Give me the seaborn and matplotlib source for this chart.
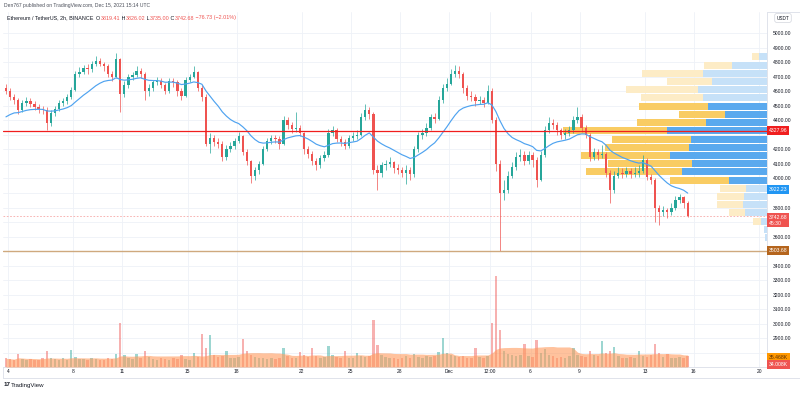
import numpy as np
import pandas as pd
import matplotlib
matplotlib.use('Agg')
import matplotlib.pyplot as plt
import matplotlib.dates as mdates
import seaborn as sns

sns.set_theme(style='white')
plt.rcParams['font.family'] = ['Liberation Sans', 'DejaVu Sans']

# ETH/USDT, 6h candles
first_candle = '2021-11-03 18:00'
first_open = 4620
closes = [
    4600, 4560, 4540, 4470, 4520, 4530, 4510, 4490, 4480, 4470, 4380, 4450,
    4480, 4520, 4530, 4560, 4610, 4720, 4730, 4760, 4750, 4790, 4810, 4790,
    4770, 4720, 4700, 4820, 4580, 4640, 4700, 4710, 4740, 4720, 4600, 4620,
    4660, 4670, 4640, 4600, 4670, 4660, 4600, 4570, 4680, 4700, 4730, 4620,
    4560, 4240, 4280, 4250, 4240, 4150, 4200, 4220, 4260, 4290, 4180, 4120,
    4020, 4060, 4100, 4200, 4260, 4280, 4270, 4240, 4400, 4370, 4340, 4350,
    4310, 4200, 4170, 4120, 4090, 4140, 4160, 4310, 4330, 4270, 4250, 4220,
    4280, 4290, 4300, 4420, 4470, 4440, 4060, 4040, 4090, 4100, 4110, 4070,
    4060, 4040, 4060, 4030, 4200, 4300, 4310, 4350, 4420, 4410, 4540, 4620,
    4650, 4720, 4740, 4720, 4620, 4570, 4560, 4530, 4540, 4520, 4600, 4400,
    4100, 3900, 3920, 4020, 4080, 4150, 4160, 4120, 4160, 4130, 3990, 4160,
    4330, 4380, 4370, 4330, 4300, 4310, 4330, 4400, 4420, 4350, 4300, 4150,
    4180, 4160, 4170, 4040, 3920, 4020, 4040, 4030, 4050, 4030, 4040, 4050,
    4130, 4010, 3990, 3800, 3770, 3780, 3770, 3800, 3850, 3870, 3830, 3742.68,
]
highs = [
    4650, 4620, 4580, 4555, 4540, 4560, 4550, 4530, 4510, 4500, 4490, 4470,
    4500, 4540, 4550, 4580, 4630, 4740, 4765, 4780, 4785, 4810, 4840, 4830,
    4800, 4785, 4740, 4865, 4830, 4670, 4720, 4735, 4770, 4760, 4730, 4650,
    4680, 4695, 4690, 4655, 4690, 4690, 4675, 4620, 4700, 4720, 4770, 4740,
    4640, 4580, 4310, 4300, 4280, 4260, 4230, 4250, 4280, 4320, 4300, 4200,
    4130, 4080, 4120, 4220, 4280, 4300, 4300, 4290, 4430, 4420, 4390, 4460,
    4370, 4320, 4220, 4190, 4140, 4160, 4190, 4340, 4360, 4345, 4290, 4270,
    4300, 4320, 4330, 4450, 4510, 4490, 4460, 4090, 4110, 4130, 4150, 4120,
    4100, 4080, 4090, 4080, 4220, 4320, 4340, 4380, 4440, 4450, 4570, 4650,
    4690, 4750, 4780, 4770, 4730, 4640, 4600, 4580, 4570, 4560, 4640, 4620,
    4420, 4130, 3990, 4050, 4110, 4180, 4200, 4190, 4190, 4180, 4150, 4190,
    4360, 4420, 4410, 4390, 4350, 4340, 4360, 4430, 4490, 4440, 4370, 4310,
    4210, 4200, 4230, 4180, 4060, 4050, 4080, 4070, 4080, 4070, 4080, 4090,
    4160, 4140, 4030, 4000, 3820, 3810, 3800, 3830, 3880, 3895, 3880, 3845,
]
lows = [
    4580, 4540, 4510, 4440, 4455, 4500, 4490, 4470, 4450, 4440, 4330, 4360,
    4430, 4465, 4500, 4510, 4545, 4600, 4700, 4715, 4720, 4735, 4775, 4770,
    4740, 4700, 4670, 4690, 4460, 4560, 4620, 4680, 4695, 4690, 4540, 4570,
    4600, 4640, 4620, 4580, 4590, 4630, 4570, 4540, 4560, 4660, 4690, 4600,
    4530, 4220, 4175, 4220, 4210, 4120, 4130, 4180, 4200, 4245, 4160, 4090,
    3970, 3990, 4030, 4090, 4190, 4240, 4245, 4200, 4230, 4340, 4310, 4320,
    4290, 4170, 4140, 4090, 4060, 4070, 4120, 4150, 4290, 4250, 4220, 4200,
    4210, 4260, 4270, 4290, 4400, 4410, 4030, 3920, 4010, 4060, 4080, 4040,
    4030, 4010, 3960, 3990, 4010, 4180, 4270, 4290, 4330, 4380, 4400, 4520,
    4600, 4640, 4700, 4690, 4590, 4540, 4530, 4500, 4510, 4490, 4510, 4380,
    4050, 3503.68, 3850, 3900, 4000, 4060, 4120, 4090, 4100, 4080, 3940, 3980,
    4150, 4310, 4340, 4300, 4270, 4270, 4290, 4310, 4380, 4320, 4280, 4120,
    4130, 4130, 4140, 4010, 3830, 3900, 4000, 4000, 4010, 4000, 4010, 4010,
    4040, 3990, 3960, 3700, 3680, 3740, 3730, 3750, 3780, 3830, 3800, 3735,
]
# closes before the visible window, only to warm up the moving average
ma_warmup = [4420, 4380, 4350, 4400, 4430, 4410, 4380, 4420,
             4400, 4360, 4390, 4420, 4400, 4380, 4410, 4400]
# volume in thousands of ETH
volumes_k = [
    28, 25, 23, 42, 26, 22, 27, 24, 21, 28, 52, 30,
    25, 23, 28, 24, 55, 32, 27, 25, 22, 30, 26, 24,
    23, 28, 25, 42, 140, 38, 30, 25, 42, 28, 52, 32,
    26, 23, 28, 25, 24, 30, 27, 40, 26, 24, 45, 31,
    106, 62, 103, 38, 32, 34, 52, 30, 28, 32, 90, 52,
    38, 32, 28, 30, 27, 29, 25, 28, 61, 34, 30, 28,
    48, 37, 32, 61, 35, 29, 33, 68, 38, 32, 30, 52,
    29, 28, 45, 34, 32, 36, 150, 71, 40, 32, 29, 28,
    26, 28, 34, 30, 42, 32, 29, 35, 31, 34, 48, 93,
    44, 38, 34, 32, 36, 30, 29, 61, 32, 28, 34, 140,
    293, 120, 52, 42, 38, 34, 40, 74, 36, 32, 87, 44,
    58, 38, 34, 30, 32, 29, 34, 61, 39, 36, 32, 52,
    38, 34, 84, 44, 50, 64, 34, 30, 28, 32, 29, 52,
    34, 32, 39, 74, 44, 32, 42, 30, 28, 32, 30, 34.008,
]

time_tick_dates = ['2021-11-04 00:00', '2021-11-08 00:00', '2021-11-11 00:00', '2021-11-15 00:00',
                   '2021-11-18 00:00', '2021-11-22 00:00', '2021-11-25 00:00', '2021-11-28 00:00',
                   '2021-12-01 00:00', '2021-12-03 12:00', '2021-12-06 00:00', '2021-12-09 00:00',
                   '2021-12-13 00:00', '2021-12-16 00:00', '2021-12-20 00:00']
time_tick_labels = ['4', '8', '11', '15', '18', '22', '25', '28', 'Dec', '12:00',
                    '6', '9', '13', '16', '20']
price_ticks = list(range(2800, 5001, 100))
# tick labels that sit under a price tag on the scale
covered_ticks = [2800, 3500, 3700, 3900, 4300]

# visible range volume profile (bottom -> top)
vp_prices = [3594, 3650, 3707, 3763, 3820, 3876, 3932, 3989, 4045, 4102, 4158, 4214,
             4271, 4327, 4384, 4440, 4496, 4553, 4609, 4666, 4722, 4778, 4835]
vp_up = [2, 3, 6, 22, 24, 23, 21, 38, 85, 75, 97, 78, 76, 100, 61, 42, 59, 64, 69, 55, 64, 35, 8]
vp_down = [0, 0, 8, 16, 26, 27, 26, 59, 96, 84, 89, 84, 79, 104, 69, 46, 69, 62, 72, 45, 61, 28, 7]
value_area = (3989, 4496)

poc_price = 4327.96
crash_low = 3503.68
last_price = 3742.68
ma_value = 3922.23
vol_ma_last = 35.468
vol_last = 34.008
countdown = '45:30'
last_bar = [3819.41, 3826.02, 3735.00, 3742.68]
change, change_pct = -76.73, -2.01

UP, DOWN = '#26a69a', '#ef5350'
BORDER = '#e0e3eb'
TXT = '#131722'

df = pd.DataFrame({'open': [first_open] + closes[:-1], 'high': highs, 'low': lows,
                   'close': closes, 'vol': volumes_k})
t = pd.date_range(first_candle, periods=len(df), freq='6h') + pd.Timedelta(hours=3)
df['x'] = mdates.date2num(t.to_pydatetime())
df['up'] = df['close'] >= df['open']
# EMA 50 on the 2h chart ~ alpha 0.113 per 6h candle
df['ma'] = (pd.Series(ma_warmup + closes).ewm(alpha=0.113, adjust=False).mean()
            .iloc[len(ma_warmup):].to_numpy())
df['vol_ma'] = df['vol'].rolling(20, min_periods=1).mean()
cols = np.where(df['up'], UP, DOWN)

W, H = 800, 394
fig = plt.figure(figsize=(8, 3.94), dpi=100)
fig.patch.set_facecolor('white')

frame = fig.add_axes([3 / W, 1 - 378 / H, 797 / W, 366 / H])
frame.set_xticks([])
frame.set_yticks([])
for s in frame.spines.values():
    s.set_color(BORDER)
    s.set_linewidth(0.7)
frame.spines['right'].set_visible(False)
frame.set_zorder(-1)

rect = [3 / W, 1 - 367 / H, 764 / W, 355 / H]
ax = fig.add_axes(rect)
ax_vol = ax.twinx()
ax_vp = ax.twiny()
ax_top = fig.add_axes(rect, sharex=ax, sharey=ax)
ax_top.patch.set_visible(False)

# volume pane
ax_vol.bar(df['x'], df['vol'], width=0.15, color=cols, alpha=0.45, lw=0)
ax_vol.fill_between(df['x'], 0, df['vol_ma'], color='#ff9a5c', alpha=0.6, lw=0)
ax_vol.set_ylim(0, 1140)
ax_vol.set_axis_off()

# volume profile
in_va = [value_area[0] <= p <= value_area[1] for p in vp_prices]
up_cols = ['#5aa9ee' if v else '#c6e1f8' for v in in_va]
dn_cols = ['#f9cc63' if v else '#fdecc6' for v in in_va]
bin_h = (vp_prices[1] - vp_prices[0]) * 0.86
ax_vp.barh(vp_prices, vp_up, height=bin_h, left=0, color=up_cols, lw=0)
ax_vp.barh(vp_prices, vp_down, height=bin_h, left=vp_up, color=dn_cols, lw=0)
tot = max(u + d for u, d in zip(vp_up, vp_down))
ax_vp.set_xlim(tot / 0.267, 0)
ax_vp.set_axis_off()

# candles + moving average
ax_top.vlines(df['x'], df['low'], df['high'], colors=cols, lw=0.5)
body_lo = np.minimum(df['open'], df['close'])
body_h = np.maximum(np.abs(df['close'] - df['open']), 4)
ax_top.bar(df['x'], body_h, bottom=body_lo, width=0.14, color=cols, lw=0)
sns.lineplot(x=df['x'], y=df['ma'], ax=ax_top, color='#4fa3f0', lw=0.85)
ax_top.axhline(poc_price, color='#f01e1e', lw=0.9)
ax_top.axhline(crash_low, color='#cfa97e', lw=1.0)
ax_top.axhline(last_price, color='#ef5350', lw=0.6, alpha=0.5, ls=(0, (2, 2)))
ax_top.set_axis_off()

x0 = mdates.date2num(pd.Timestamp('2021-11-04').to_pydatetime())
ax.set_xlim(x0 - 0.306, x0 + 46.48)
ax.set_ylim(2704, 5144)

ax.yaxis.tick_right()
ax.set_yticks(price_ticks)
ax.set_yticklabels(['' if p in covered_ticks else f'{p:.2f}' for p in price_ticks])
tick_x = mdates.date2num(pd.to_datetime(time_tick_dates, format='%Y-%m-%d %H:%M').to_pydatetime())
ax.set_xticks(tick_x)
ax.set_xticklabels(time_tick_labels)
ax.tick_params(axis='y', length=0, pad=4.3, labelsize=3.6, labelcolor=TXT)
ax.tick_params(axis='x', length=0, pad=1.6, labelsize=3.5, labelcolor=TXT)
ax.grid(True, color='#eef1f7', lw=0.6)
ax.set_axisbelow(True)
ax.set_xlabel('')
ax.set_ylabel('')
for side in ['left', 'top']:
    ax.spines[side].set_visible(False)
for side in ['right', 'bottom']:
    ax.spines[side].set_color(BORDER)
    ax.spines[side].set_linewidth(0.7)


def tag(axis, y, text, fc, tc='white', dy=0):
    axis.annotate(text, xy=(1, y), xycoords=('axes fraction', 'data'),
                  xytext=(1.3, dy), textcoords='offset points', ha='left', va='center',
                  fontsize=3.7, color=tc, annotation_clip=False, linespacing=1.25,
                  bbox=dict(boxstyle='square,pad=0.35', fc=fc, ec='none'))


tag(ax_top, poc_price, f'{poc_price:.2f}', '#f01e1e')
tag(ax_top, ma_value, f'{ma_value:.2f}', '#2196f3')
tag(ax_top, last_price, f'{last_price:.2f}\n{countdown}', '#ef5350', dy=-3)
tag(ax_top, crash_low, f'{crash_low:.2f}', '#b5651d')
tag(ax_vol, vol_ma_last, f'{vol_ma_last:.3f}K', '#ff9800', tc='#5a2d00', dy=-0.8)
tag(ax_vol, vol_last, f'{vol_last:.3f}K', '#ef5350', dy=-6.0)

fig.text(783 / W, 1 - 18 / H, 'USDT', ha='center', va='center', fontsize=3.4, color=TXT,
         bbox=dict(boxstyle='round,pad=0.4', fc='white', ec='#d1d4dc', lw=0.5))

# header and legend
fig.text(4 / W, 1 - 6 / H, 'Den767 published on TradingView.com, Dec 15, 2021 15:14 UTC',
         fontsize=3.6, color='#4a4e59', va='center', ha='left')

parts = [('Ethereum / TetherUS, 2h, BINANCE', TXT), ('  O', TXT), (f'{last_bar[0]:.2f}', DOWN),
         (' H', TXT), (f'{last_bar[1]:.2f}', DOWN), (' L', TXT), (f'{last_bar[2]:.2f}', DOWN),
         (' C', TXT), (f'{last_bar[3]:.2f}', DOWN),
         (f' \u2212{abs(change):.2f} (\u2212{abs(change_pct):.2f}%)', DOWN)]
prev = fig.text(7 / W, 1 - 18 / H, parts[0][0], color=parts[0][1], fontsize=3.85,
                va='center', ha='left')
for s, c in parts[1:]:
    prev = ax_top.annotate(s, xy=(1, 0), xycoords=prev, xytext=(0, 0),
                           textcoords='offset points', ha='left', va='bottom',
                           fontsize=3.85, color=c, annotation_clip=False)

fig.text(4 / W, 1 - 385 / H, '17', fontsize=4.5, fontweight='bold', color=TXT,
         va='center', ha='left')
fig.text(10.5 / W, 1 - 385 / H, 'TradingView', fontsize=4.4, color=TXT, va='center', ha='left')

fig.savefig('out.png', dpi=100)
